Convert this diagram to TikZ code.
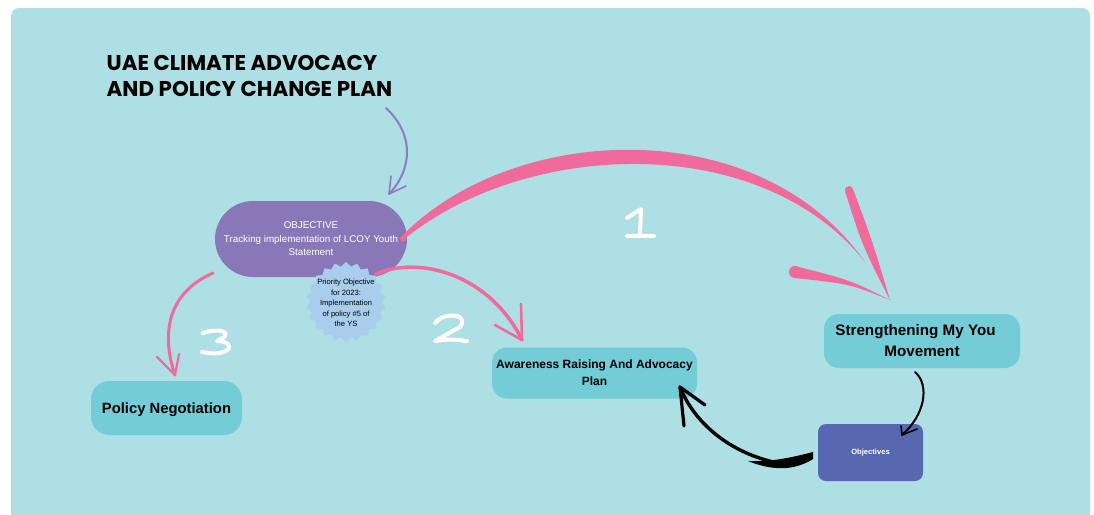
\documentclass[tikz,border=0pt]{standalone}
\usepackage{fontspec}
\setmainfont{Liberation Sans}
\newfontfamily\titlefont{Poppins}
\usetikzlibrary{shapes.geometric}
\definecolor{panel}{RGB}{173,223,228}
\definecolor{objpurple}{RGB}{138,119,184}
\definecolor{starblue}{RGB}{169,205,237}
\definecolor{teal}{RGB}{116,205,214}
\definecolor{objblue}{RGB}{88,104,176}
\definecolor{brushpink}{RGB}{240,107,156}
\definecolor{arrowpurple}{RGB}{141,123,195}
\tikzset{
  tealbox/.style={fill=teal, draw=none, rounded corners=18pt, align=center, font=\bfseries},
  numstroke/.style={draw=white, line width=4pt, line cap=round, line join=round},
  pinkline/.style={draw=brushpink, line cap=round, line join=round},
  blackline/.style={draw=black, line cap=round, line join=round},
}
\begin{document}
\begin{tikzpicture}[x=1pt,y=-1pt]
\useasboundingbox (0,0) rectangle (1094,514);
\fill[white] (0,0) rectangle (1094,514);
\fill[panel, rounded corners=8pt] (11,8) rectangle (1090,540);

% title
\node[anchor=north west, align=left, inner sep=0pt, font=\titlefont\bfseries\fontsize{21.4}{26}\selectfont] (title) at (106.5,55.5) {UAE CLIMATE ADVOCACY\\AND POLICY CHANGE PLAN};

% nodes
\node[fill=objpurple, rounded corners=38pt, minimum width=192pt, minimum height=76pt, text=white, align=center, font=\fontsize{9.8}{13.5}\selectfont, inner sep=2pt] (obj) at (311,239) {OBJECTIVE\\Tracking implementation of LCOY Youth\\Statement};
\node[star, star points=22, star point ratio=1.12, fill=starblue, minimum size=80pt, inner sep=0pt] (star) at (346,302) {};
\node[align=center, font=\fontsize{7.6}{10.6}\selectfont, inner sep=0pt] (startext) at (346,303) {Priority Objective\\for 2023:\\Implementation\\of policy \#5 of\\the YS};

\node[tealbox, minimum width=151pt, minimum height=54pt, font=\bfseries\fontsize{14.8}{16}\selectfont, inner sep=1pt, text depth=0pt] (policy) at (166.5,408) {Policy Negotiation};
\node[tealbox, rounded corners=15pt, minimum width=205pt, minimum height=51pt, font=\bfseries\fontsize{12}{17}\selectfont, inner sep=1pt] (aware) at (594.5,373) {Awareness Raising And Advocacy\\Plan};
\node[tealbox, rounded corners=15pt, minimum width=196pt, minimum height=54pt, font=\bfseries\fontsize{15.2}{21}\selectfont, inner sep=1pt] (strength) at (922,341) {Strengthening My You\hspace*{13pt}\\Movement};
\node[fill=objblue, rounded corners=8pt, minimum width=105pt, minimum height=57pt, text=white, font=\bfseries\fontsize{7.6}{8}\selectfont] (objectives) at (870.5,452.5) {Objectives};

% anchor coordinates
\coordinate (titleend) at (386,108);
\coordinate (objtop) at (389,194);
\coordinate (oneStart) at (403,237);
\coordinate (oneEnd) at (865,262);
\coordinate (oneTip) at (890,300);
\coordinate (twoStart) at (376,274);
\coordinate (twoTip) at (522,340);
\coordinate (threeStart) at (213,273);
\coordinate (threeTip) at (175,375);
\coordinate (fourStart) at (915,372);
\coordinate (fourTip) at (902,435);
\coordinate (fiveStart) at (813,456);
\coordinate (fiveTip) at (680,387);

% purple arrow from title
\draw[draw=arrowpurple, line width=2pt, line cap=round] (titleend) .. controls (415,135) and (412,170) .. (objtop);
\draw[draw=arrowpurple, line width=1.6pt, line cap=round, line join=round] (391,176) -- (objtop) -- (406,186);

% pink arrow 1 (brush)
\fill[brushpink] (oneStart) ++(0,-2) .. controls (515,122) and (760,112) .. (oneEnd)
  .. controls (760,130) and (525,140) .. (403,240) -- cycle;
\fill[brushpink] (403,238.5) circle (3pt);
\fill[brushpink] (oneTip) .. controls (862,245) .. (845,191) -- (853,189) .. controls (872,240) .. (oneTip) -- cycle;
\fill[brushpink] (849,190) circle (4pt);
\fill[brushpink] (oneTip) .. controls (850,280) .. (795,266) -- (795,278) .. controls (850,284) .. (oneTip) -- cycle;
\fill[brushpink] (795,272) circle (6pt);

% pink arrow 2
\draw[pinkline, line width=3.5pt] (twoStart) .. controls (420,255) and (490,275) .. (twoTip);
\draw[pinkline, line width=2.6pt] (521,304) -- (twoTip) -- (495,325);

% pink arrow 3
\draw[pinkline, line width=3pt] (threeStart) .. controls (163,295) and (163,340) .. (threeTip);
\draw[pinkline, line width=2.2pt] (157,357) -- (threeTip) -- (179,354);

% black arrow 4
\draw[blackline, line width=2pt] (fourStart) .. controls (930,385) and (925,415) .. (fourTip);
\draw[blackline, line width=1.6pt] (901,426) -- (fourTip) -- (917,429);

% black arrow 5
\fill[black] (fiveStart) ++(0,-4) .. controls (790,458) and (770,462) .. (748,461) .. controls (780,474) and (800,467) .. (813,459) -- cycle;
\draw[blackline, line width=3.4pt] (790,465) .. controls (735,458) and (695,425) .. (fiveTip);
\draw[blackline, line width=3.2pt] (684,426) -- (fiveTip) -- (705,405);

% numbers
\draw[numstroke] (627,218) -- (641,209) -- (640,235);
\draw[numstroke] (627,236) -- (654,236);
\draw[numstroke] (435,323) .. controls (445,311) and (470,314) .. (460,327) -- (435,341) .. controls (450,339) .. (467,341);
\draw[numstroke] (203,333) .. controls (220,327) and (236,333) .. (217,341) .. controls (239,342) and (230,358) .. (202,352);

\end{tikzpicture}
\end{document}
